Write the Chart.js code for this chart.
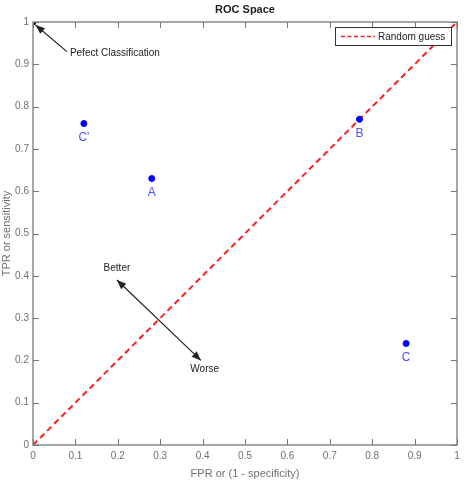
<!DOCTYPE html>
<html>
<head>
<meta charset="utf-8">
<script src="https://cdn.jsdelivr.net/npm/chart.js@4"></script>
<style>
  html, body { margin: 0; padding: 0; background: #fff; }
  #wrap { width: 474px; height: 485px; }
</style>
</head>
<body>
<div id="wrap"><canvas id="rocChart" width="474" height="485"></canvas></div>
<script>
// classifier points
const pointLabels = ["C'", 'A', 'B', 'C'];
const fprValues = [0.12, 0.28, 0.77, 0.88];
const tprValues = [0.76, 0.63, 0.77, 0.24];

// diagonal "random guess" line and the perfect classifier
const guessFpr = [0, 1];
const guessTpr = [0, 1];
const perfectFpr = [0];
const perfectTpr = [1];

// axis ticks
const tickValues = [0, 0.1, 0.2, 0.3, 0.4, 0.5, 0.6, 0.7, 0.8, 0.9, 1];

const GRAY = '#6f6f6f';
const FONT = '"Liberation Sans", Arial, sans-serif';

// tick label like matlab: 0, 0.1 ... 1
function fmtTick(v) {
    return String(Math.round(v * 10) / 10);
}

// draws the box, inward ticks, labels, arrows and legend
const decorPlugin = {
    id: 'decor',
    afterDraw(chart) {
        const ctx = chart.ctx;
        const a = chart.chartArea;
        const xs = chart.scales.x;
        const ys = chart.scales.y;
        const px = v => xs.getPixelForValue(v);
        const py = v => ys.getPixelForValue(v);
        ctx.save();

        // frame
        ctx.strokeStyle = '#8a8a8a';
        ctx.lineWidth = 1.5;
        ctx.strokeRect(a.left, a.top, a.right - a.left, a.bottom - a.top);

        // inward ticks on all four sides
        ctx.lineWidth = 1;
        ctx.strokeStyle = '#777';
        ctx.beginPath();
        tickValues.forEach(v => {
            const x = Math.round(px(v)) + 0.5;
            const y = Math.round(py(v)) + 0.5;
            ctx.moveTo(x, a.bottom); ctx.lineTo(x, a.bottom - 6);
            ctx.moveTo(x, a.top); ctx.lineTo(x, a.top + 6);
            ctx.moveTo(a.left, y); ctx.lineTo(a.left + 6, y);
            ctx.moveTo(a.right, y); ctx.lineTo(a.right - 6, y);
        });
        ctx.stroke();

        // title
        ctx.fillStyle = '#222';
        ctx.font = 'bold 11px ' + FONT;
        ctx.textAlign = 'center';
        ctx.textBaseline = 'middle';
        ctx.fillText('ROC Space', 245, 10);

        // point labels
        ctx.fillStyle = '#4f4fff';
        ctx.font = '12px ' + FONT;
        ctx.textBaseline = 'middle';
        pointLabels.forEach((lab, i) => {
            ctx.fillText(lab, px(fprValues[i]), py(tprValues[i]) + 14);
        });

        // annotations
        ctx.fillStyle = '#222';
        ctx.strokeStyle = '#222';
        ctx.font = '10px ' + FONT;
        ctx.textAlign = 'left';
        ctx.fillText('Pefect Classification', px(0.087), py(0.925));
        ctx.textAlign = 'center';
        ctx.fillText('Better', px(0.198), py(0.418));
        ctx.fillText('Worse', px(0.405), py(0.178));

        drawArrow(ctx, px(0.08), py(0.93), px(0.006), py(0.993), false);
        drawArrow(ctx, px(0.396), py(0.2), px(0.198), py(0.39), true);

        // legend box
        ctx.fillStyle = '#fff';
        ctx.fillRect(335, 27, 117, 18);
        ctx.strokeStyle = '#333';
        ctx.lineWidth = 1;
        ctx.strokeRect(335.5, 27.5, 116, 18);
        ctx.strokeStyle = '#ff2020';
        ctx.lineWidth = 1.5;
        ctx.setLineDash([4, 2.5]);
        ctx.beginPath();
        ctx.moveTo(341, 36.5);
        ctx.lineTo(375, 36.5);
        ctx.stroke();
        ctx.setLineDash([]);
        ctx.fillStyle = '#222';
        ctx.font = '10px ' + FONT;
        ctx.textAlign = 'left';
        ctx.fillText('Random guess', 378, 37);

        ctx.restore();
    }
};

function arrowHead(ctx, x1, y1, x2, y2) {
    const ang = Math.atan2(y2 - y1, x2 - x1);
    const len = 10, w = 0.38;
    ctx.beginPath();
    ctx.moveTo(x2, y2);
    ctx.lineTo(x2 - len * Math.cos(ang - w), y2 - len * Math.sin(ang - w));
    ctx.lineTo(x2 - len * Math.cos(ang + w), y2 - len * Math.sin(ang + w));
    ctx.closePath();
    ctx.fill();
}

function drawArrow(ctx, x1, y1, x2, y2, both) {
    ctx.lineWidth = 1.2;
    ctx.beginPath();
    ctx.moveTo(x1, y1);
    ctx.lineTo(x2, y2);
    ctx.stroke();
    arrowHead(ctx, x1, y1, x2, y2);
    if (both) arrowHead(ctx, x2, y2, x1, y1);
}

const ctx = document.getElementById('rocChart').getContext('2d');
new Chart(ctx, {
    type: 'scatter',
    data: {
        datasets: [
            {
                label: 'Random guess',
                type: 'line',
                order: 2,   // under the points
                data: guessFpr.map((x, i) => ({ x: x, y: guessTpr[i] })),
                borderColor: '#ff2020',
                borderWidth: 2,
                borderDash: [6, 4],
                pointRadius: 0,
                fill: false
            },
            {
                label: 'Classifiers',
                order: 1,
                data: fprValues.map((x, i) => ({ x: x, y: tprValues[i] })),
                backgroundColor: '#0000ff',
                borderColor: '#0000ff',
                pointRadius: 3
            },
            {
                label: 'Perfect',
                order: 1,
                data: perfectFpr.map((x, i) => ({ x: x, y: perfectTpr[i] })),
                backgroundColor: '#000',
                borderColor: '#000',
                pointRadius: 3
            }
        ]
    },
    options: {
        responsive: false,
        animation: false,
        layout: { padding: { top: 22, right: 17, left: 0, bottom: 0 } },
        plugins: {
            legend: { display: false },
            tooltip: { enabled: false }
        },
        scales: {
            x: {
                type: 'linear',
                min: 0,
                max: 1,
                afterFit: s => { s.height = 40; },
                afterBuildTicks: s => { s.ticks = tickValues.map(v => ({ value: v })); },
                grid: { display: false, drawTicks: false },
                border: { display: false },
                ticks: { color: GRAY, font: { size: 10, family: FONT }, padding: 5, maxRotation: 0, callback: fmtTick },
                title: { display: true, text: 'FPR or (1 - specificity)', color: GRAY, font: { size: 11, family: FONT }, padding: { top: 2 } }
            },
            y: {
                type: 'linear',
                min: 0,
                max: 1,
                afterFit: s => { s.width = 33; },
                afterBuildTicks: s => { s.ticks = tickValues.map(v => ({ value: v })); },
                grid: { display: false, drawTicks: false },
                border: { display: false },
                ticks: { color: GRAY, font: { size: 10, family: FONT }, padding: 4, callback: fmtTick },
                title: { display: true, text: 'TPR or sensitivity', color: GRAY, font: { size: 11, family: FONT }, padding: { top: 0, bottom: 0 } }
            }
        }
    },
    plugins: [decorPlugin]
});
</script>
</body>
</html>
